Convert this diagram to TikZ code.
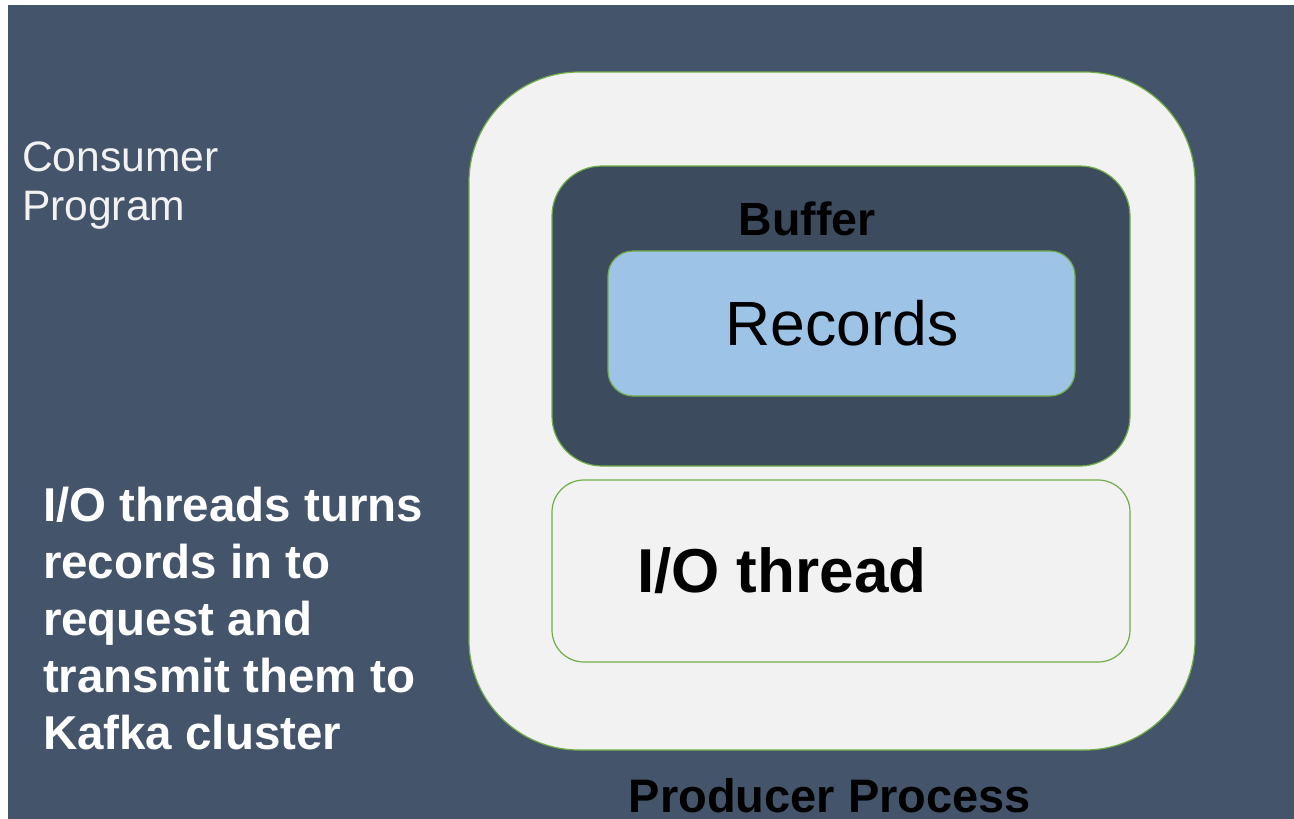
\documentclass[tikz,border=0pt]{standalone}
\usepackage{fontspec}
\setmainfont{Liberation Sans}
\definecolor{slate}{HTML}{44546A}
\definecolor{slatedark}{HTML}{3D4B5E}
\definecolor{lightbg}{HTML}{F2F2F2}
\definecolor{recblue}{HTML}{9DC3E6}
\definecolor{grn}{HTML}{70AD47}
\begin{document}
\begin{tikzpicture}[x=1pt,y=-1pt,
  box/.style={draw=grn, line width=1.2pt, inner sep=0pt, outer sep=0pt},
  txt/.style={inner sep=0pt, outer sep=0pt, anchor=base west},
  ctxt/.style={inner sep=0pt, outer sep=0pt, anchor=base},
  side/.style={txt, font=\fontsize{47.5}{57}\selectfont\bfseries, text=white}]
\useasboundingbox (0,0) rectangle (1294,819);
\fill[white] (0,0) rectangle (1294,819);
\fill[slate] (8,5) rectangle (1294,819);
% producer process
\node[box, fill=lightbg, minimum width=726pt, minimum height=678pt, rounded corners=110pt] (producer) at (832,411) {};
\node[box, fill=slatedark, minimum width=578pt, minimum height=300pt, rounded corners=50pt] (buffer) at (841,316) {};
\node[box, fill=recblue, minimum width=467pt, minimum height=145pt, rounded corners=25pt] (records) at (841.5,323.5) {};
\node[box, fill=lightbg, minimum width=578pt, minimum height=182pt, rounded corners=32pt] (io) at (841,571) {};
% texts
\node[ctxt, font=\fontsize{46.5}{50}\selectfont\bfseries, text=black] (buflabel) at (807,235) {Buffer};
\node[ctxt, font=\fontsize{62.5}{70}\selectfont, text=black] (reclabel) at (842,345) {Records};
\node[txt, font=\fontsize{62}{70}\selectfont\bfseries, text=black] (iolabel) at (637,592) {I/O thread};
\node[ctxt, font=\fontsize{47}{50}\selectfont\bfseries, text=black] (prodlabel) at (830,812) {Producer Process};
\node[txt, font=\fontsize{42.6}{49}\selectfont, text=white!95!black] (cons1) at (22,171.5) {Consumer};
\node[txt, font=\fontsize{42.6}{49}\selectfont, text=white!95!black] (cons2) at (22,220.5) {Program};
\node[side] (l1) at (43,521) {I/O threads turns};
\node[side] (l2) at (43,578) {records in to};
\node[side] (l3) at (43,635) {request and};
\node[side] (l4) at (43,692) {transmit them to};
\node[side] (l5) at (43,749) {Kafka cluster};
\end{tikzpicture}
\end{document}
